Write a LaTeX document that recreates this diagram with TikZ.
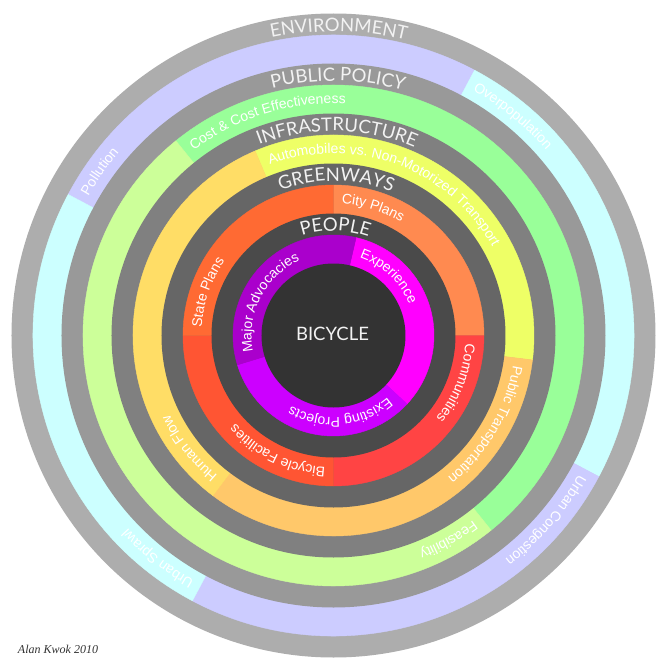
\documentclass[tikz,border=0pt]{standalone}
\usepackage{fontspec}
\usetikzlibrary{decorations.text}
\newfontfamily\arialf{Liberation Sans}
\newfontfamily\gillf{Lato}
\newfontfamily\sigf{Liberation Serif}
\definecolor{genv}{HTML}{ADADAD}
\definecolor{gpol}{HTML}{999999}
\definecolor{ginf}{HTML}{808080}
\definecolor{ggrn}{HTML}{666666}
\definecolor{gppl}{HTML}{4A4A4A}
\definecolor{gbic}{HTML}{333333}
\definecolor{lav}{HTML}{CCCCFF}
\definecolor{cyn}{HTML}{CCFFFF}
\definecolor{grn}{HTML}{99FF99}
\definecolor{lgrn}{HTML}{CCFF99}
\definecolor{yel}{HTML}{EEFF66}
\definecolor{ora}{HTML}{FFC86A}
\definecolor{yor}{HTML}{FFDD66}
\definecolor{city}{HTML}{FF8A50}
\definecolor{comm}{HTML}{FF4444}
\definecolor{bfac}{HTML}{FF5533}
\definecolor{state}{HTML}{FF6A33}
\definecolor{expe}{HTML}{FF00FF}
\definecolor{exist}{HTML}{CC00FF}
\definecolor{major}{HTML}{AA00CC}
\definecolor{capcol}{HTML}{F2F2F2}
\newcommand\slice[4]{\fill[#4, draw=#4, line width=0.4pt] (0,0) -- (#1:#3) arc[start angle=#1, end angle=#2, radius=#3] -- cycle;}
\newcommand\arclabel[4]{\path[decorate, decoration={text along path, text={|\arialf\fontsize{14}{16}\selectfont|#4}, text align={left indent=8pt}, text color=white}] (#2:#1) arc[start angle=#2, end angle=#3, radius=#1];}
\newcommand\capslabel[2]{\path[decorate, decoration={text along path, text={|\gillf\fontsize{18.5}{20}\selectfont|#2}, text align=center, text color=capcol}] (150:#1) arc[start angle=150, end angle=28, radius=#1];}
\begin{document}
\begin{tikzpicture}
\useasboundingbox (-333.5pt,-334.5pt) rectangle (336.5pt,335.5pt);
\fill[white] (-333.5pt,-334.5pt) rectangle (336.5pt,335.5pt);
% ENVIRONMENT
\fill[genv] (0,0) circle[radius=322pt];
\slice{152}{62}{300.5pt}{lav}
\slice{62}{-28}{300.5pt}{cyn}
\slice{-28}{-118}{300.5pt}{lav}
\slice{-118}{-208}{300.5pt}{cyn}
% PUBLIC POLICY
\fill[gpol] (0,0) circle[radius=272pt];
\slice{129}{-51}{250.5pt}{grn}
\slice{-51}{-231}{250.5pt}{lgrn}
% INFRASTRUCTURE
\fill[ginf] (0,0) circle[radius=222pt];
\slice{113}{-7}{200.5pt}{yel}
\slice{-7}{-127}{200.5pt}{ora}
\slice{-127}{-247}{200.5pt}{yor}
% GREENWAYS
\fill[ggrn] (0,0) circle[radius=172pt];
\slice{90}{0}{150.5pt}{city}
\slice{0}{-90}{150.5pt}{comm}
\slice{-90}{-180}{150.5pt}{bfac}
\slice{180}{90}{150.5pt}{state}
% PEOPLE
\fill[gppl] (0,0) circle[radius=122pt];
\slice{77}{-43}{100.5pt}{expe}
\slice{-43}{-163}{100.5pt}{exist}
\slice{197}{77}{100.5pt}{major}
% BICYCLE
\fill[gbic] (0,0) circle[radius=72pt];
\node[text=capcol, font=\gillf\fontsize{18.5}{20}\selectfont] (bicycle) at (-1pt,1.5pt) {BICYCLE};
% caps labels
\capslabel{304pt}{ENVIRONMENT}
\capslabel{254.5pt}{PUBLIC POLICY}
\capslabel{204.5pt}{INFRASTRUCTURE}
\capslabel{154.5pt}{GREENWAYS}
\capslabel{104.5pt}{PEOPLE}
% ring labels
\arclabel{282pt}{152}{62}{Pollution}
\arclabel{282pt}{62}{-28}{Overpopulation}
\arclabel{282pt}{-28}{-118}{Urban Congestion}
\arclabel{282pt}{-118}{-208}{Urban Sprawl}
\arclabel{232pt}{129}{-51}{Cost {\&} Cost Effectiveness}
\arclabel{232pt}{-51}{-231}{Feasibility}
\arclabel{182pt}{113}{-7}{Automobiles vs. Non-Motorized Transport}
\arclabel{182pt}{-7}{-127}{Public Transportation}
\arclabel{182pt}{-127}{-247}{Human Flow}
\arclabel{132pt}{90}{0}{City Plans}
\arclabel{132pt}{0}{-90}{Communities}
\arclabel{132pt}{-90}{-180}{Bicycle Facilities}
\arclabel{132pt}{180}{90}{State Plans}
\arclabel{82pt}{77}{-43}{Experience}
\arclabel{82pt}{-43}{-163}{Existing Projects}
\arclabel{82pt}{197}{77}{Major Advocacies}
% signature
\node[text=gbic, font=\sigf\itshape\fontsize{12}{14}\selectfont] (sig) at (-275.5pt,-313.5pt) {Alan Kwok 2010};
\end{tikzpicture}
\end{document}
